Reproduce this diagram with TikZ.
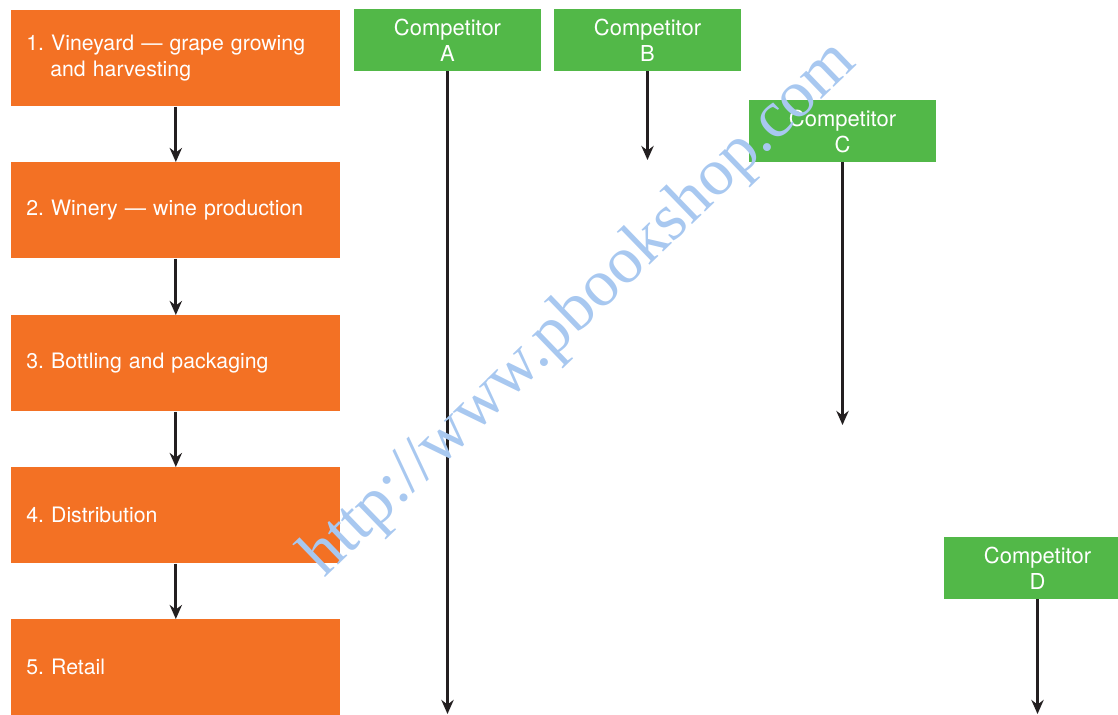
\documentclass[tikz,border=0pt]{standalone}
\usepackage{fontspec}
\setmainfont{TeX Gyre Heros}
\newfontfamily\wmfont{Liberation Serif}
\usetikzlibrary{arrows.meta}
\definecolor{stageorange}{RGB}{243,113,36}
\definecolor{rivalgreen}{RGB}{82,184,72}
\definecolor{arrowblack}{RGB}{35,31,32}
\definecolor{wmblue}{RGB}{168,200,240}
\tikzset{
  stage/.style={fill=stageorange, text=white, anchor=north west, inner sep=0pt,
    minimum width=6.58cm, minimum height=1.92cm, text width=5.98cm, align=left,
    font=\fontsize{12.1}{14.8}\selectfont},
  rival/.style={fill=rivalgreen, text=white, inner sep=0pt,
    minimum width=3.74cm, minimum height=1.24cm, align=center,
    font=\fontsize{12.5}{14.8}\selectfont},
  flow/.style={-{Stealth[length=8pt,width=7pt,inset=2.6pt]}, line width=1.6pt, draw=arrowblack, fill=arrowblack}
}
\frenchspacing
\begin{document}
\begin{tikzpicture}[x=0.02cm,y=-0.02cm]
\useasboundingbox (0,0) rectangle (1118,714);
% Chaine de valeur
\node [stage] (s1) at (11,10)  {1. Vineyard — grape growing\\\hspace*{0.48cm}and harvesting};
\node [stage] (s2) at (11,162) {2. Winery — wine production};
\node [stage] (s3) at (11,315) {3. Bottling and packaging};
\node [stage] (s4) at (11,467) {4. Distribution};
\node [stage] (s5) at (11,619) {5. Retail};
\draw [flow] (s1) -- (s2);
\draw [flow] (s2) -- (s3);
\draw [flow] (s3) -- (s4);
\draw [flow] (s4) -- (s5);
% Concurrents
\node [rival] (compA) at (447.5,40)  {Competitor\\A};
\node [rival] (compB) at (647.5,40)  {Competitor\\B};
\node [rival] (compC) at (842.5,131) {Competitor\\C};
\node [rival] (compD) at (1037.5,568) {Competitor\\D};
\coordinate (endA) at (447.5,714);
\coordinate (endB) at (647.5,160);
\coordinate (endC) at (842.5,425);
\coordinate (endD) at (1037.5,714);
\draw [flow] (compA) -- (endA);
\draw [flow] (compB) -- (endB);
\draw [flow] (compC) -- (endC);
\draw [flow] (compD) -- (endD);
% Filigrane
\node [wmblue, rotate=44, font=\wmfont\fontsize{38}{38}\selectfont] (wm) at (580,310) {http://www.pbookshop.com};
\end{tikzpicture}
\end{document}
